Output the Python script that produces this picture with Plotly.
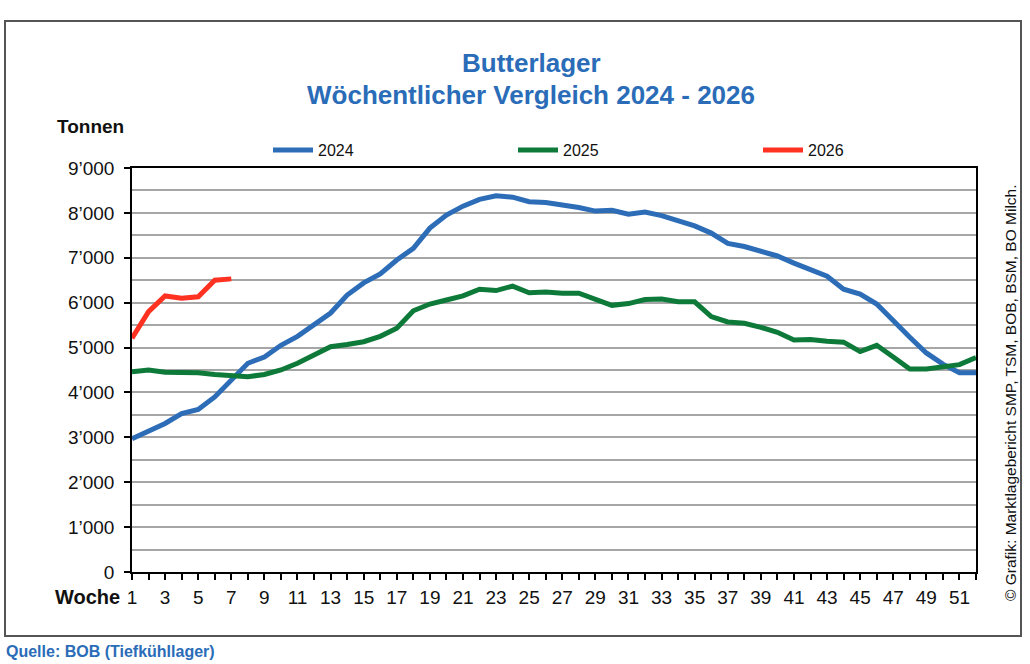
import plotly.graph_objects as go

weeks = list(range(1, 53))

s2024 = [2970, 3140, 3310, 3530, 3620, 3900, 4290, 4650, 4790, 5050,
         5250, 5500, 5770, 6170, 6440, 6640, 6950, 7210, 7660, 7950,
         8150, 8300, 8380, 8350, 8250, 8230, 8180, 8120, 8040, 8060,
         7970, 8020, 7940, 7830, 7710, 7550, 7320, 7250, 7140, 7040,
         6880, 6730, 6590, 6300, 6190, 5970, 5580, 5230, 4880, 4630,
         4440, 4440]
s2025 = [4460, 4500, 4450, 4450, 4440, 4400, 4370, 4350, 4400, 4500,
         4650, 4830, 5020, 5070, 5130, 5250, 5430, 5820, 5970, 6060,
         6150, 6300, 6270, 6370, 6220, 6240, 6210, 6210, 6080, 5940,
         5980, 6070, 6080, 6020, 6020, 5690, 5570, 5540, 5450, 5340,
         5170, 5180, 5140, 5120, 4910, 5050, 4790, 4520, 4520, 4570,
         4620, 4780]
s2026 = [5210, 5800, 6150, 6100, 6130, 6500, 6530]

series = [("2024", s2024, "#2D6DB8"), ("2025", s2025, "#0E7A3A"), ("2026", s2026, "#FF3222")]

y_tickvals = [0, 1000, 2000, 3000, 4000, 5000, 6000, 7000, 8000, 9000]
y_ticktext = ["0", "1’000", "2’000", "3’000", "4’000", "5’000", "6’000", "7’000", "8’000", "9’000"]
x_tickvals = list(range(1, 52, 2))
x_ticktext = [str(w) for w in x_tickvals]

title_lines = ["Butterlager", "Wöchentlicher Vergleich 2024 - 2026"]
source_text = "Quelle: BOB (Tiefkühllager)"
credit_text = "© Grafik: Marktlagebericht SMP, TSM, BOB, BSM, BO Milch."

W, H = 1030, 664
L, R, T, B = 132, 976, 168, 572


def px(x):
    return (x - L) / (R - L)


def py(y):
    return (B - y) / (B - T)


fig = go.Figure()
for name, vals, col in series:
    fig.add_trace(go.Scatter(x=weeks[:len(vals)], y=vals, name=name, mode="lines",
                             line=dict(color=col, width=5)))

font_main = "Liberation Sans, Arial, sans-serif"
font_narrow = "Liberation Sans Narrow, Arial Narrow, Liberation Sans, Arial, sans-serif"
blue = "#2A6CB8"

fig.update_layout(
    width=W, height=H,
    margin=dict(l=L, r=W - R, t=T, b=H - B, autoexpand=False),
    paper_bgcolor="white", plot_bgcolor="white",
    showlegend=True,
    legend=dict(orientation="h", x=px(268), xanchor="left", y=py(150), yanchor="middle",
                entrywidth=190, entrywidthmode="pixels",
                font=dict(family=font_narrow, size=16, color="#111"),
                bgcolor="rgba(0,0,0,0)", itemwidth=40),
    xaxis=dict(range=[1, 52], tickvals=x_tickvals, ticktext=x_ticktext,
               ticks="outside", ticklen=6, tickwidth=1.5, tickcolor="#000",
               showline=True, linecolor="#000", linewidth=1.5, mirror=True,
               showgrid=False, zeroline=False,
               tickfont=dict(family=font_main, size=19, color="#111"),
               ticklabelstandoff=1,
               minor=dict(dtick=1, tick0=0, ticks="outside", ticklen=6, tickwidth=1.5,
                          tickcolor="#000", showgrid=False)),
    yaxis=dict(range=[0, 9000], tickvals=y_tickvals, ticktext=y_ticktext,
               ticks="outside", ticklen=6, tickwidth=1.5, tickcolor="#000",
               showline=True, linecolor="#000", linewidth=1.5, mirror=True,
               showgrid=True, gridcolor="#A6A6A6", gridwidth=2, zeroline=False,
               tickfont=dict(family=font_main, size=19, color="#111"),
               ticklabelstandoff=6,
               minor=dict(dtick=500, tick0=0, showgrid=True, gridcolor="#A6A6A6",
                          gridwidth=2, ticks="")),
)

annotations = [
    dict(text=title_lines[0], x=px(531), y=py(63), font=dict(family=font_main, size=26, color=blue)),
    dict(text=title_lines[1], x=px(531), y=py(95), font=dict(family=font_main, size=26, color=blue)),
]
for a in annotations:
    a["text"] = "<b>" + a["text"] + "</b>"
annotations += [
    dict(text="<b>Tonnen</b>", x=px(90), y=py(127), font=dict(family=font_main, size=19, color="#111")),
    dict(text="<b>Woche</b>", x=px(87), y=py(597), font=dict(family=font_main, size=20, color="#111")),
    dict(text="<b>" + source_text + "</b>", x=px(4), y=py(651), xanchor="left",
         font=dict(family=font_main, size=16, color=blue)),
    dict(text=credit_text, x=px(1010), y=py(393), textangle=-90,
         font=dict(family=font_narrow, size=15.5, color="#111")),
]
for a in annotations:
    a.setdefault("xanchor", "center")
    a.update(xref="paper", yref="paper", yanchor="middle", showarrow=False)
fig.update_layout(annotations=annotations)

fig.add_shape(type="rect", xref="paper", yref="paper",
              x0=px(5), x1=px(1021), y0=py(21), y1=py(636),
              line=dict(color="#555", width=2), fillcolor="rgba(0,0,0,0)", layer="below")

fig.write_html("out.html", config={"displayModeBar": False},
               post_script="document.body.style.margin='0';document.body.style.overflow='hidden';")
